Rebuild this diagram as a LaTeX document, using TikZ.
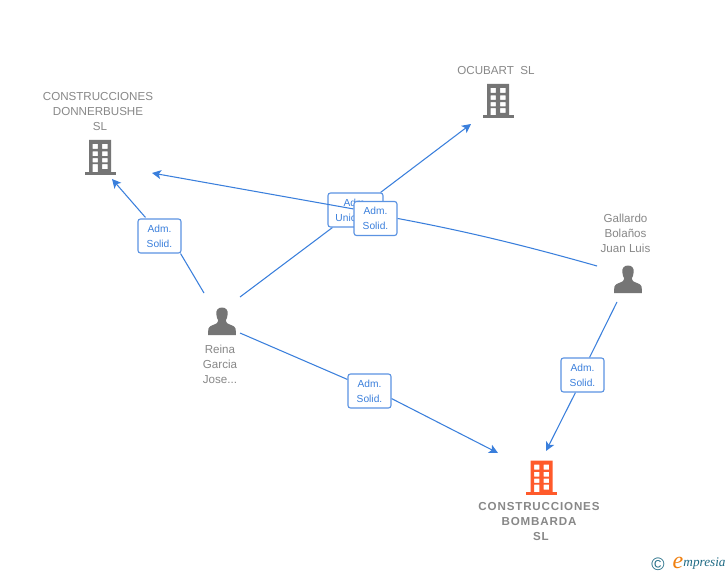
\documentclass[tikz,border=0pt]{standalone}
\usepackage{fontspec}
\setmainfont{Liberation Sans}
\newfontfamily\spacedbold[LetterSpace=7.2]{Liberation Sans Bold}
\newfontfamily\logoserif{Liberation Serif Italic}
\usetikzlibrary{arrows.meta}
\definecolor{linkblue}{HTML}{3A7FDC}
\definecolor{boxblue}{HTML}{5B93E2}
\definecolor{icongray}{HTML}{757575}
\definecolor{textgray}{HTML}{888888}
\definecolor{iconorange}{HTML}{FF5A2B}
\definecolor{logoteal}{HTML}{1F6B85}
\definecolor{logoorange}{HTML}{F08010}
\pgfdeclarelayer{edgesA}
\pgfdeclarelayer{boxesA}
\pgfdeclarelayer{edgesB}
\pgfsetlayers{edgesA,boxesA,edgesB,main}
\tikzset{
  link/.style={draw=linkblue,line width=1.05pt},
  linkarrow/.style={link,-{Stealth[length=9pt,width=9pt,inset=2.2pt]}},
  rolebox/.style={draw=boxblue,line width=1.1pt,fill=white,rounded corners=2.5pt,
    minimum width=43pt,minimum height=34pt,inner sep=0pt,align=center,
    text=linkblue,font=\fontsize{10.2}{15}\selectfont},
  caption/.style={align=center,text=textgray,inner sep=0pt,font=\fontsize{11.6}{15}\selectfont},
  boldcaption/.style={caption,font=\fontsize{11.6}{15}\spacedbold},
  pics/building/.style={code={
    \fill[#1,even odd rule] (-11,-17) rectangle (11,15)
      (-7.5,-13) rectangle (-2.2,-8) (2.2,-13) rectangle (7.5,-8)
      (-7.5,-5.6) rectangle (-2.2,-1) (2.2,-5.6) rectangle (7.5,-1)
      (-7.5,1.1) rectangle (-2.2,5.4) (2.2,1.1) rectangle (7.5,5.4)
      (-7.5,7.2) rectangle (-2.2,15) (2.2,7.2) rectangle (7.5,12);
    \fill[#1] (-15.5,14.5) rectangle (15.5,17.5);
  }},
  pics/person/.style={code={
    \fill[icongray] (0,-14.5) .. controls (-4.2,-14.5) and (-6,-11.5) .. (-5.7,-8)
      .. controls (-5.5,-5) and (-4.6,-3) .. (-3.8,-1.5)
      .. controls (-3.8,0.5) and (-5,1.5) .. (-8.5,2.8)
      .. controls (-12.5,4.2) and (-13.8,5.5) .. (-13.8,9) -- (-13.8,13) -- (13.8,13) -- (13.8,9)
      .. controls (13.8,5.5) and (12.5,4.2) .. (8.5,2.8)
      .. controls (5,1.5) and (3.8,0.5) .. (3.8,-1.5)
      .. controls (4.6,-3) and (5.5,-5) .. (5.7,-8)
      .. controls (6,-11.5) and (4.2,-14.5) .. (0,-14.5) -- cycle;
  }}
}
\begin{document}
\begin{tikzpicture}[x=1pt,y=-1pt]
\useasboundingbox (0,0) rectangle (728,575);
\begin{pgfonlayer}{edgesA}
\fill[white] (0,0) rectangle (728,575);
\end{pgfonlayer}

% icons
\pic at (100,157) {building=icongray};
\pic at (498,101) {building=icongray};
\pic at (541.5,477.5) {building=iconorange};
\pic at (222,322) {person};
\pic at (628,280) {person};

% captions
\node[caption] (donner) at (98,112) {CONSTRUCCIONES\\DONNERBUSHE\\\hspace*{4pt}SL};
\node[caption] (ocubart) at (496,71) {OCUBART\ \ SL};
\node[caption] (reina) at (220,364) {Reina\\Garcia\\Jose...};
\node[caption] (gallardo) at (625.5,233.5) {Gallardo\\Bolaños\\Juan Luis};
\node[boldcaption] (bombarda) at (539,522) {CONSTRUCCIONES\\BOMBARDA\\\hspace*{4pt}SL};

% free ends of connectors
\coordinate (reinaUp) at (204,293);
\coordinate (reinaRight) at (240,297);
\coordinate (reinaDown) at (240,333);
\coordinate (gallardoLeft) at (597,266);
\coordinate (gallardoDown) at (617,302);
\coordinate (donnerTipA) at (112,179);
\coordinate (donnerTipB) at (152,173);
\coordinate (ocubartTip) at (471,124);
\coordinate (bombardaTipA) at (498,453);
\coordinate (bombardaTipB) at (546,451);

% role boxes
\node[rolebox] (roleD) at (159.5,236) {Adm.\\Solid.};
\node[rolebox] (roleG) at (375.5,218.5) {Adm.\\Solid.};
\node[rolebox] (roleB) at (369.5,391) {Adm.\\Solid.};
\node[rolebox] (roleC) at (582.5,375) {Adm.\\Solid.};
\begin{pgfonlayer}{boxesA}
\node[rolebox,minimum width=55pt] (roleO) at (355.5,210) {Adm.\\Unico\hspace*{14pt}};
\end{pgfonlayer}

% connectors
\begin{pgfonlayer}{edgesA}
\draw[link] (reinaUp) -- ([xshift=-1pt]roleD.south east);
\draw[linkarrow] ([xshift=8pt,yshift=1pt]roleD.north west) -- (donnerTipA);
\draw[link] (reinaRight) -- ([xshift=5pt]roleO.south west);
\draw[linkarrow] ([xshift=-3pt]roleO.north east) -- (ocubartTip);
\draw[link] (reinaDown) -- ([yshift=-6pt]roleB.north west);
\draw[linkarrow] ([yshift=10pt]roleB.south east) -- (bombardaTipA);
\draw[link] (gallardoDown) -- ([xshift=-15pt]roleC.north east);
\draw[linkarrow] ([xshift=15pt]roleC.south west) -- (bombardaTipB);
\end{pgfonlayer}
\begin{pgfonlayer}{edgesB}
\draw[link] (gallardoLeft) .. controls (530,247) and (470,232) .. ([yshift=-17.5pt]roleG.north east);
\draw[linkarrow] ([yshift=-8pt]roleG.north west) -- (donnerTipB);
\end{pgfonlayer}

% logo
\node[text=logoteal,inner sep=0pt,font=\fontsize{18}{18}\selectfont] (logoC) at (658,564) {©};
\node[text=logoorange,inner sep=0pt,font=\fontsize{24}{24}\logoserif] (logoE) at (678,563) {e};
\node[text=logoteal,inner sep=0pt,font=\fontsize{13.2}{14}\logoserif] (logoT) at (704.5,564) {mpresia};
\end{tikzpicture}
\end{document}
